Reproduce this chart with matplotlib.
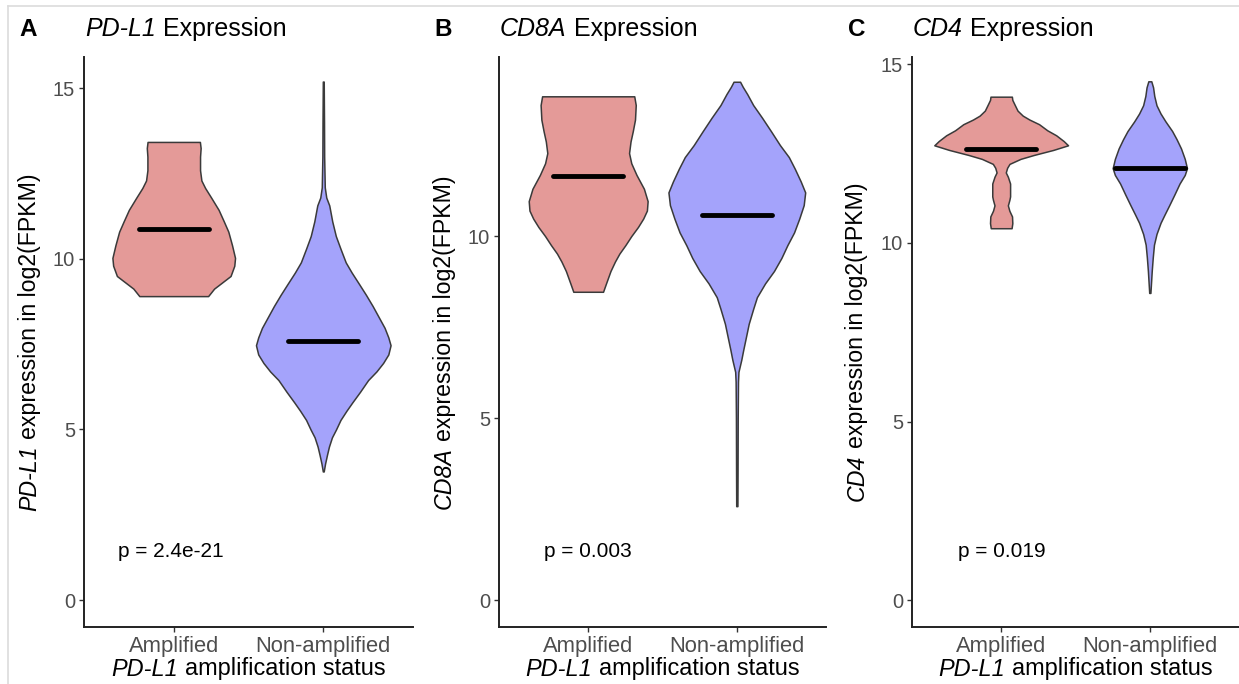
import matplotlib
matplotlib.use("Agg")
import matplotlib.pyplot as plt
import numpy as np
from matplotlib.font_manager import FontProperties
from matplotlib.transforms import IdentityTransform
from matplotlib.lines import Line2D

plt.rcParams["font.family"] = "Liberation Sans"

# ---------------------------------------------------------------- data
groups = ["Amplified", "Non-amplified"]
genes = ["PD-L1", "CD8A", "CD4"]
panel_letters = ["A", "B", "C"]
p_labels = ["p = 2.4e-21", "p = 0.003", "p = 0.019"]

# violin outlines: expression level (log2 FPKM) and density half-width
pdl1_amp_y = [8.91, 9.13, 9.5, 9.8, 10.03, 10.4, 10.8, 11.1, 11.44, 11.8, 12.08,
              12.3, 12.6, 13.0, 13.25, 13.43]
pdl1_amp_w = [0.23, 0.27, 0.38, 0.405, 0.41, 0.39, 0.365, 0.335, 0.30, 0.25, 0.21,
              0.185, 0.176, 0.176, 0.18, 0.175]
pdl1_non_y = [3.77, 4.0, 4.26, 4.5, 4.77, 5.0, 5.28, 5.55, 5.8, 6.1, 6.45, 6.7, 6.95,
              7.2, 7.47, 7.7, 7.98, 8.3, 8.62, 8.95, 9.26, 9.6, 9.9, 10.3, 10.67,
              11.1, 11.57, 11.8, 12.1, 13.0, 14.0, 15.2]
pdl1_non_w = [0.003, 0.012, 0.025, 0.038, 0.058, 0.085, 0.115, 0.155, 0.195, 0.245, 0.30,
              0.355, 0.40, 0.435, 0.45, 0.435, 0.41, 0.37, 0.33, 0.285, 0.24, 0.19,
              0.15, 0.115, 0.084, 0.06, 0.04, 0.02, 0.01, 0.006, 0.005, 0.003]

cd8a_amp_y = [8.47, 8.7, 9.04, 9.3, 9.52, 9.75, 10.0, 10.25, 10.48, 10.7, 10.96,
              11.3, 11.68, 12.0, 12.28, 12.6, 12.88, 13.2, 13.6, 13.84]
cd8a_amp_w = [0.10, 0.12, 0.15, 0.18, 0.21, 0.25, 0.29, 0.335, 0.37, 0.395, 0.40,
              0.375, 0.325, 0.29, 0.275, 0.285, 0.30, 0.315, 0.32, 0.31]
cd8a_non_y = [2.58, 3.5, 5.0, 6.0, 6.27, 6.6, 6.87, 7.2, 7.59, 8.0, 8.32, 8.7, 9.04,
              9.4, 9.75, 10.1, 10.48, 10.85, 11.2, 11.5, 11.85, 12.17, 12.5, 12.88,
              13.25, 13.6, 13.9, 14.1, 14.24]
cd8a_non_w = [0.004, 0.005, 0.006, 0.008, 0.011, 0.03, 0.043, 0.06, 0.08, 0.11, 0.135,
              0.19, 0.25, 0.30, 0.34, 0.385, 0.42, 0.45, 0.46, 0.43, 0.39, 0.35, 0.29,
              0.23, 0.17, 0.11, 0.07, 0.04, 0.022]

cd4_amp_y = [10.41, 10.55, 10.74, 10.9, 11.05, 11.2, 11.3, 11.66, 11.85, 11.97, 12.1,
             12.21, 12.35, 12.46, 12.6, 12.73, 12.85, 13.01, 13.15, 13.32, 13.45,
             13.56, 13.7, 13.87, 14.0, 14.09]
cd4_amp_w = [0.07, 0.075, 0.073, 0.055, 0.045, 0.055, 0.06, 0.06, 0.045, 0.031, 0.04,
             0.056, 0.13, 0.22, 0.35, 0.45, 0.42, 0.37, 0.31, 0.255, 0.19, 0.145,
             0.11, 0.09, 0.075, 0.072]
cd4_non_y = [8.6, 9.22, 9.6, 9.95, 10.25, 10.56, 10.8, 11.05, 11.35, 11.66, 11.9,
             12.09, 12.35, 12.64, 12.9, 13.13, 13.4, 13.62, 13.85, 14.11, 14.35, 14.52]
cd4_non_w = [0.004, 0.013, 0.02, 0.028, 0.045, 0.072, 0.10, 0.13, 0.165, 0.20, 0.235,
             0.25, 0.235, 0.21, 0.18, 0.15, 0.105, 0.072, 0.045, 0.03, 0.022, 0.01]

pdl1_medians = [10.88, 7.6]
cd8a_medians = [11.65, 10.59]
cd4_medians = [12.62, 12.09]

# ---------------------------------------------------------------- layout
W, H = 1239, 684
fig = plt.figure(figsize=(W / 100, H / 100), dpi=100)

panel_x = [(84, 413), (499, 826), (912, 1239)]
panel_top, panel_bottom = 57, 627
ylims = [(-0.79, 15.92), (-0.74, 14.92), (-0.745, 15.2)]
yticks = [[0, 5, 10, 15], [0, 5, 10], [0, 5, 10, 15]]
p_pos = [(0.627, 1.27), (0.703, 1.19), (0.707, 1.22)]
letter_x = [19, 434, 848]
ylabel_x = [30, 444, 857]

fill_colors = ["#E49A98", "#A4A3FB"]
outline = "#3a3a3a"
tick_grey = "#4D4D4D"
FAMILY = "Liberation Sans"

violins = [
    [(pdl1_amp_y, pdl1_amp_w), (pdl1_non_y, pdl1_non_w)],
    [(cd8a_amp_y, cd8a_amp_w), (cd8a_non_y, cd8a_non_w)],
    [(cd4_amp_y, cd4_amp_w), (cd4_non_y, cd4_non_w)],
]
medians = [pdl1_medians, cd8a_medians, cd4_medians]

renderer = fig.canvas.get_renderer()


def text_width(s, size, style="normal", weight="normal"):
    prop = FontProperties(family=FAMILY, style=style, weight=weight, size=size)
    w, h, d = renderer.get_text_width_height_descent(s, prop, ismath=False)
    return w


def mixed_text(x, y_top, parts, size, ha="center", rotation=0, color="black"):
    """Draw a run of text pieces with differing styles at pixel coordinates."""
    space = text_width("a a", size) - text_width("aa", size)
    widths = [text_width(s, size, st) for s, st in parts]
    total = sum(widths) + space * (len(parts) - 1)
    yd = H - y_top
    start = (x if rotation == 0 else yd)
    if ha == "center":
        start -= total / 2
    for (s, st), w in zip(parts, widths):
        if rotation == 0:
            fig.text(start, yd, s, transform=IdentityTransform(), fontsize=size,
                     style=st, ha="left", va="center", color=color, family=FAMILY)
        else:
            fig.text(x, start, s, transform=IdentityTransform(), fontsize=size,
                     style=st, ha="center", va="bottom", rotation=90,
                     color=color, family=FAMILY)
        start += w + space


for k in range(3):
    x0, x1 = panel_x[k]
    ax = fig.add_axes([x0 / W, 1 - panel_bottom / H, (x1 - x0) / W,
                       (panel_bottom - panel_top) / H])
    for i, (yv, wv) in enumerate(violins[k]):
        pos = i + 1
        yv = np.asarray(yv)
        wv = np.asarray(wv)
        ax.fill_betweenx(yv, pos - wv, pos + wv, facecolor=fill_colors[i],
                         edgecolor=outline, linewidth=1.1, zorder=2)
        ax.plot([pos - 0.235, pos + 0.235], [medians[k][i]] * 2, color="black",
                lw=3.5, solid_capstyle="round", zorder=3)

    ax.set_xlim(0.4, 2.6)
    ax.set_ylim(*ylims[k])
    ax.set_xticks([1, 2])
    ax.set_xticklabels(groups)
    ax.set_yticks(yticks[k])
    for side in ("top", "right"):
        ax.spines[side].set_visible(False)
    for side in ("left", "bottom"):
        ax.spines[side].set_color("#222222")
        ax.spines[side].set_linewidth(1.4)
    ax.tick_params(axis="both", direction="out", length=3.5, width=1.0,
                   color="#333333", labelcolor=tick_grey)
    ax.tick_params(axis="y", labelsize=14.5, pad=3)
    ax.tick_params(axis="x", labelsize=15.8, pad=3)

    px, py = p_pos[k]
    ax.text(px, py, p_labels[k], fontsize=15, ha="left", va="baseline",
            color="black")

    # panel letter and title
    fig.text(letter_x[k], H - 29, panel_letters[k], transform=IdentityTransform(),
             fontsize=17.5, weight="bold", ha="left", va="center")
    mixed_text(x0 + 1, 29, [(genes[k], "italic"), ("Expression", "normal")],
               18, ha="left")

    # axis titles
    mixed_text((x0 + x1) / 2, 669,
               [("PD-L1", "italic"), ("amplification status", "normal")], 16.9)
    mixed_text(ylabel_x[k], 342,
               [(genes[k], "italic"), ("expression in log2(FPKM)", "normal")],
               16.7, rotation=90)

# light frame around the figure
fig.add_artist(Line2D([8 / W, 1], [1 - 6 / H, 1 - 6 / H], transform=fig.transFigure,
                      color="#DCDCDC", lw=1.2))
fig.add_artist(Line2D([8 / W, 8 / W], [0, 1 - 6 / H], transform=fig.transFigure,
                      color="#DCDCDC", lw=1.2))

fig.savefig("out.png", dpi=100)
